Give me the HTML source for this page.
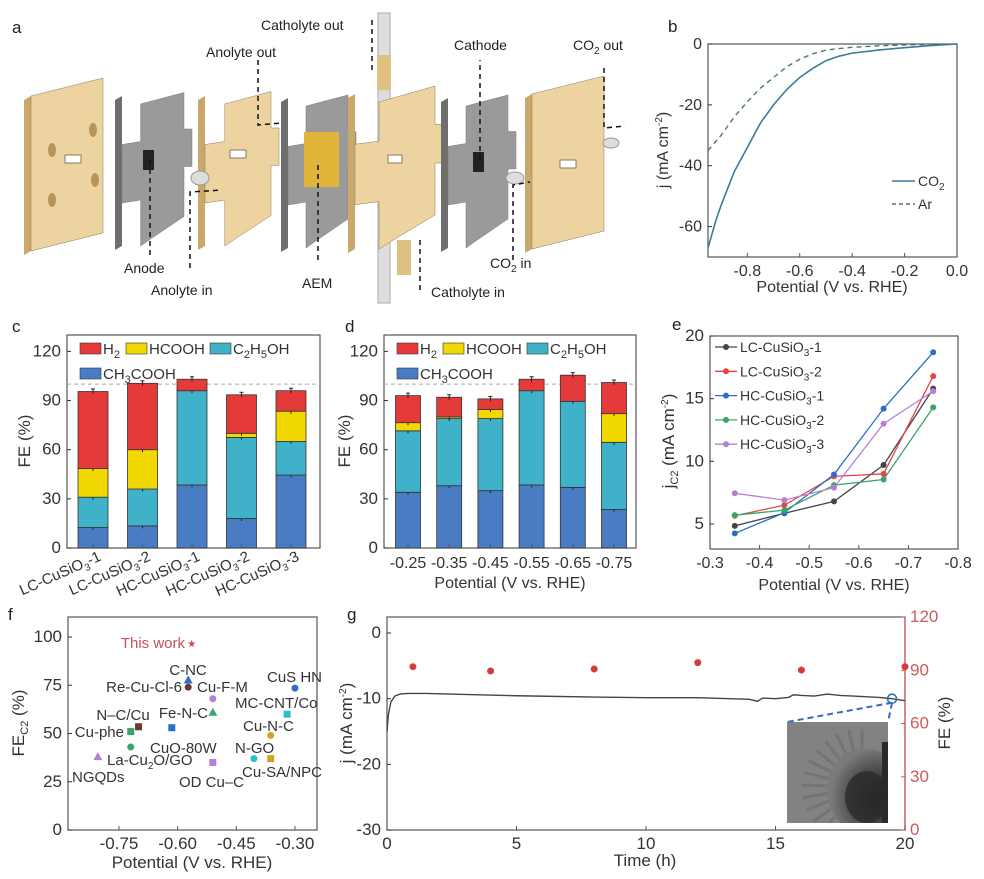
<!DOCTYPE html>
<html><head><meta charset="utf-8"><style>
body{margin:0;background:#fff;}
svg{display:block;font-family:"Liberation Sans",sans-serif;}
</style></head><body>
<svg id="fig" width="984" height="879" viewBox="0 0 984 879" xmlns="http://www.w3.org/2000/svg">
<defs>
<radialGradient id="blob" cx="0.65" cy="0.6" r="0.6"><stop offset="0" stop-color="#1e1e1e"/><stop offset="0.55" stop-color="#4a4a4a"/><stop offset="1" stop-color="#7a7a7a"/></radialGradient>
</defs>
<g id="pa"></g>
<g id="pb"></g>
<g id="pc"></g>
<g id="pd"></g>
<g id="pe"></g>
<g id="pf"></g>
<g id="pg"></g>
</svg>
<script>
// ---------- data ----------
const bPot = [-0.95,-0.92,-0.9,-0.85,-0.8,-0.75,-0.7,-0.65,-0.6,-0.55,-0.5,-0.45,-0.4,-0.3,-0.2,-0.1,0];
const bCO2 = [-67,-58,-53,-42,-34,-26,-20,-15,-11,-8,-5.5,-4,-3,-2,-1.2,-0.5,0];
const bArPot = [-0.95,-0.9,-0.85,-0.8,-0.75,-0.7,-0.65,-0.6,-0.55,-0.5,-0.45,-0.4,-0.3,-0.2,0];
const bAr = [-35,-30,-24,-19,-14.5,-11,-7.5,-5,-3.2,-2,-1.5,-1.1,-0.6,-0.3,0];

const cCats = ["LC-CuSiO3-1","LC-CuSiO3-2","HC-CuSiO3-1","HC-CuSiO3-2","HC-CuSiO3-3"];
const cCH3COOH = [12.5,13.5,38.5,18,44.5];
const cC2H5OH = [18.5,22.5,57.5,49.5,20.5];
const cHCOOH = [17.5,24,0,2.5,18.5];
const cH2 = [47,40.5,7,23.5,12.5];

const dCats = ["-0.25","-0.35","-0.45","-0.55","-0.65","-0.75"];
const dCH3COOH = [34,38,35,38.5,37,23.5];
const dC2H5OH = [37.5,41,44,57.5,52.5,41];
const dHCOOH = [5,1,5.5,0,0,17.5];
const dH2 = [16.5,12,6.5,7,16,19];

const ePot = [-0.35,-0.45,-0.55,-0.65,-0.75];
const eLC1 = [4.85,5.85,6.8,9.7,15.8];
const eLC2 = [5.65,6.5,8.8,9.0,16.8];
const eHC1 = [4.25,5.9,8.95,14.2,18.7];
const eHC2 = [5.7,6.1,8.1,8.55,14.3];
const eHC3 = [7.45,6.9,7.9,13.0,15.6];

const fNames = ["This work","C-NC","Re-Cu-Cl-6","Cu-F-M","Fe-N-C","CuO-80W","N–C/Cu","Cu-phe","La-Cu2O/GO","NGQDs","OD Cu–C","N-GO","Cu-SA/NPC","Cu-N-C","MC-CNT/Co","CuS HN"];
const fPot = [-0.564,-0.573,-0.573,-0.51,-0.51,-0.615,-0.70,-0.72,-0.72,-0.804,-0.51,-0.405,-0.362,-0.362,-0.32,-0.30];
const fFE = [97,77.7,74,68,61,53,53.5,51,43,38,35,37,37,49,60,73.5];

const gTime = [0,0.05,0.15,0.3,0.5,0.8,1.5,3,5,8,10,12,14,14.3,14.5,15,15.5,15.7,16,16.5,17,17.5,18,19,19.5,20];
const gJ = [-15,-12.5,-10.5,-9.6,-9.3,-9.2,-9.2,-9.35,-9.55,-9.75,-9.85,-9.85,-10.1,-10.4,-9.9,-10,-9.8,-9.4,-9.5,-9.6,-9.3,-9.5,-9.6,-9.8,-10.0,-10.3];
const gFETime = [1,4,8,12,16,20];
const gFE = [92,89.6,90.7,94.3,90.1,92];

// ---------- helpers ----------
const NS="http://www.w3.org/2000/svg";
function mk(parent,tag,attrs,text){const e=document.createElementNS(NS,tag);for(const k in attrs)e.setAttribute(k,attrs[k]);if(text!==undefined)e.innerHTML=text;parent.appendChild(e);return e;}
const TXT="#333";

// ---------- panel a ----------
(function(){
const g=document.getElementById('pa');
const lab=mk(g,'text',{x:12,y:33,'font-size':17,fill:'#222'},'a');


function plate(x,w,yt,h,front,side,name,cross){
  const sk=-0.25*w, t=7;
  const grp=mk(g,'g',{});
  
  
  mk(grp,'polygon',{points:`${x-t},${yt+8} ${x},${yt+4} ${x},${yt+4+h} ${x-t},${yt+8+h}`,fill:side});
  let pts;
  if(cross){
    const a=w*0.3;
    pts=`${x+a},${yt+12} ${x+w},${yt+4+sk+12} ${x+w},${yt+sk+h*0.35} ${x+w+8},${yt+sk+h*0.35} ${x+w+8},${yt+sk+h*0.6} ${x+w},${yt+sk+h*0.6} ${x+w},${yt+sk+h-10} ${x+a+w*0.2},${yt+h+sk*0.3} ${x+a},${yt+h+4} ${x+a},${yt+h*0.72} ${x},${yt+h*0.74} ${x},${yt+h*0.35} ${x+a},${yt+h*0.33}`;
  } else {
    pts=`${x},${yt+4} ${x+w},${yt+4+sk} ${x+w},${yt+4+sk+h} ${x},${yt+4+h}`;
  }
  mk(grp,'polygon',{points:pts,fill:front,stroke:'#8a7a5a','stroke-width':0.5});
  return grp;
}
const tan='#ecd3a0', tanS='#caa86c', gr='#9a9a9a', grS='#6e6e6e';
plate(31,72,92,155,tan,tanS,'end-plate-left',false);
mk(g,'ellipse',{cx:52,cy:150,rx:4,ry:7,fill:'#b89458'});mk(g,'ellipse',{cx:52,cy:200,rx:4,ry:7,fill:'#b89458'});
mk(g,'ellipse',{cx:93,cy:130,rx:4,ry:7,fill:'#b89458'});mk(g,'ellipse',{cx:95,cy:180,rx:4,ry:7,fill:'#b89458'});
mk(g,'rect',{x:65,y:155,width:16,height:8,fill:'#fff',stroke:'#8a7a5a'});
plate(122,62,92,150,gr,grS,'anode-plate',true);
mk(g,'rect',{x:143,y:150,width:11,height:20,fill:'#222'});
plate(205,66,92,150,tan,tanS,'anolyte-plate',true);
mk(g,'rect',{x:230,y:150,width:16,height:8,fill:'#fff',stroke:'#8a7a5a'});
mk(g,'ellipse',{cx:200,cy:178,rx:9,ry:7,fill:'#ddd',stroke:'#999'});
plate(288,60,94,150,gr,grS,'aem-plate',true);
const aem=mk(g,'rect',{x:304,y:132,width:35,height:55,fill:'#e0b53a'});


mk(g,'rect',{x:378,y:13,width:12,height:290,fill:'#ddd',stroke:'#aaa'});
mk(g,'rect',{x:377,y:55,width:14,height:35,fill:'#dfc080'});
mk(g,'rect',{x:397,y:240,width:14,height:35,fill:'#dfc080'});
plate(355,80,90,155,tan,tanS,'catholyte-plate',true);
mk(g,'rect',{x:388,y:155,width:14,height:8,fill:'#fff',stroke:'#8a7a5a'});
plate(448,60,94,150,gr,grS,'cathode-plate',true);
mk(g,'rect',{x:473,y:152,width:11,height:20,fill:'#222'});
mk(g,'ellipse',{cx:515,cy:178,rx:9,ry:6,fill:'#ddd',stroke:'#999'});
plate(532,72,90,155,tan,tanS,'end-plate-right',false);
mk(g,'rect',{x:560,y:160,width:16,height:8,fill:'#fff',stroke:'#8a7a5a'});
mk(g,'ellipse',{cx:611,cy:143,rx:8,ry:5,fill:'#ddd',stroke:'#999'});
function darr(pts){const p=mk(g,'polyline',{points:pts,fill:'none',stroke:'#111','stroke-width':1.5,'stroke-dasharray':'5,4'});}
darr('150,160 150,258');darr('190,268 190,192 222,190');darr('258,60 258,125 282,123');
darr('318,165 318,262');darr('372,70 372,18');darr('420,290 420,237');
darr('480,160 480,60');darr('513,260 513,185 530,182');darr('604,68 604,128 625,126');
const labels=[["Catholyte out",261,30,'label-catholyte-out'],["Anolyte out",206,57,'label-anolyte-out'],["Cathode",454,50,'label-cathode'],["CO<tspan font-size='10' dy='4'>2</tspan><tspan dy='-4'> out</tspan>",573,50,'label-co2-out'],["Anode",124,273,'label-anode'],["Anolyte in",151,295,'label-anolyte-in'],["AEM",302,288,'label-aem'],["CO<tspan font-size='10' dy='4'>2</tspan><tspan dy='-4'> in</tspan>",490,268,'label-co2-in'],["Catholyte in",431,297,'label-catholyte-in']];
labels.forEach(l=>{const t=mk(g,'text',{x:l[1],y:l[2],'font-size':14,fill:'#222'},l[0]);});
})();

// ---------- generic axis helpers ----------
function frame(g,x0,y0,x1,y1){mk(g,'rect',{x:x0,y:y0,width:x1-x0,height:y1-y0,fill:'none',stroke:'#555','stroke-width':1.2});}
function ytick(g,x,y,label,color,right,fs){
  color=color||TXT;
  mk(g,'line',{x1:x,y1:y,x2:right?x-4:x+4,y2:y,stroke:color});
  const t=mk(g,'text',{x:right?x+5:x-6,y:y+5,'font-size':fs||16,fill:color,'text-anchor':right?'start':'end'},label);
  
  
}
function xtick(g,x,y,label,fs){
  mk(g,'line',{x1:x,y1:y,x2:x,y2:y-4,stroke:'#555'});
  const t=mk(g,'text',{x:x,y:y+19,'font-size':fs||16,fill:TXT,'text-anchor':'middle'},label);
  
  
}
function title(g,x,y,html,rot,name,fs,color){
  const t=mk(g,'text',{x:x,y:y,'font-size':fs||16,fill:color||TXT,'text-anchor':'middle',transform:rot?`rotate(-90 ${x} ${y})`:''},html);
  
  
}
function plabel(g,x,y,s){const t=mk(g,'text',{x:x,y:y,'font-size':17,fill:'#222'},s);}

// ---------- panel b ----------
(function(){
const g=document.getElementById('pb');
const X0=708,X1=957,Y0=44,Y1=257, xmin=-0.95,xmax=0,ymin=-70,ymax=0;
const sx=v=>X0+(v-xmin)/(xmax-xmin)*(X1-X0), sy=v=>Y0+(ymax-v)/(ymax-ymin)*(Y1-Y0);
plabel(g,668,32,'b');
frame(g,X0,Y0,X1,Y1);
[0,-20,-40,-60].forEach(v=>ytick(g,X0,sy(v),v));
[-0.8,-0.6,-0.4,-0.2,0].forEach(v=>xtick(g,sx(v),Y1,v.toFixed(1)));
const l1=mk(g,'polyline',{points:bPot.map((p,i)=>sx(p)+','+sy(bCO2[i])).join(' '),fill:'none',stroke:'#3c7a9a','stroke-width':1.6});

const l2=mk(g,'polyline',{points:bArPot.map((p,i)=>sx(p)+','+sy(bAr[i])).join(' '),fill:'none',stroke:'#4a7a6a','stroke-width':1.4,'stroke-dasharray':'5,4'});

mk(g,'line',{x1:892,y1:181,x2:915,y2:181,stroke:'#3c7a9a','stroke-width':1.6});
const t1=mk(g,'text',{x:918,y:186,'font-size':14,fill:TXT},"CO<tspan font-size='10' dy='4'>2</tspan>");
mk(g,'line',{x1:892,y1:204,x2:915,y2:204,stroke:'#4a7a6a','stroke-width':1.4,'stroke-dasharray':'4,3'});
const t2=mk(g,'text',{x:918,y:209,'font-size':14,fill:TXT},"Ar");
title(g,832,292,'Potential (V vs. RHE)',false,'x-axis-title');
title(g,668,150,"j (mA cm<tspan font-size='10' dy='-6'>-2</tspan><tspan dy='6'>)</tspan>",true,'y-axis-title');
})();

// ---------- stacked bars (c,d) ----------
const COLS=['#4a7cc4','#3fb1c8','#f0d800','#e53a3a'];
function stacked(gid,X0,X1,cats,series,centers,bw,labelFn,lx){
  const g=document.getElementById(gid);
  const Y0=335,Y1=548;
  const sy=v=>Y1-v*(Y1-Y0)/130;
  frame(g,X0,Y0,X1,Y1);
  [0,30,60,90,120].forEach(v=>ytick(g,X0,sy(v),v,TXT,false,17));
  mk(g,'line',{x1:X0,y1:sy(100),x2:X1,y2:sy(100),stroke:'#aaa','stroke-dasharray':'4,3'});
  cats.forEach((c,i)=>{
    let acc=0;
    series.forEach((s,k)=>{
      const v=s[i]; if(v<=0){return;}
      const r=mk(g,'rect',{x:centers[i]-bw/2,y:sy(acc+v),width:bw,height:v*(Y1-Y0)/130,fill:COLS[k],stroke:'#333','stroke-width':0.8});
      
      
      acc+=v;
      const ey=sy(acc);
      mk(g,'line',{x1:centers[i],y1:ey-2.5,x2:centers[i],y2:ey+2.5,stroke:'#222'});
      mk(g,'line',{x1:centers[i]-2,y1:ey-2.5,x2:centers[i]+2,y2:ey-2.5,stroke:'#222'});
    });
    mk(g,'line',{x1:centers[i],y1:Y1,x2:centers[i],y2:Y1-4,stroke:'#555'});
    labelFn(g,centers[i],c);
  });
  const items=[["H<tspan font-size='11' dy='4'>2</tspan>",lx,343,3],["HCOOH",lx+46,343,2],["C<tspan font-size='11' dy='4'>2</tspan><tspan dy='-4'>H</tspan><tspan font-size='11' dy='4'>5</tspan><tspan dy='-4'>OH</tspan>",lx+130,343,1],["CH<tspan font-size='11' dy='4'>3</tspan><tspan dy='-4'>COOH</tspan>",lx,368,0]];
  items.forEach(it=>{
    const r=mk(g,'rect',{x:it[1],y:it[2],width:21,height:11,fill:COLS[it[3]],stroke:'#333','stroke-width':0.6});
    
    const t=mk(g,'text',{x:it[1]+23,y:it[2]+11,'font-size':15,fill:TXT},it[0]);
    
  });
}
(function(){
const cx0=93,cstep=49.5;
const centersC=cCats.map((_,i)=>cx0+cstep*i);
stacked('pc',67,320,cCats,[cCH3COOH,cC2H5OH,cHCOOH,cH2],centersC,30,(g,x,c)=>{
  const p=c.indexOf('O3');
  const a=c.slice(0,p+1), b=c.slice(p+2);
  const t=mk(g,'text',{x:x+9,y:560,'font-size':15,fill:TXT,'text-anchor':'end',transform:`rotate(-24 ${x+9} 560)`},`${a}<tspan font-size='10' dy='4'>3</tspan><tspan dy='-4'>${b}</tspan>`);
  
},80);
const g=document.getElementById('pc');
plabel(g,12,332,'c');
title(g,30,441,'FE (%)',true,'y-axis-title',17);
const centersD=dCats.map((_,i)=>408+41.2*i);
stacked('pd',384,636,dCats,[dCH3COOH,dC2H5OH,dHCOOH,dH2],centersD,25,(g,x,c)=>{
  const t=mk(g,'text',{x:x,y:568,'font-size':16,fill:TXT,'text-anchor':'middle'},c);
  
},397);
const gd=document.getElementById('pd');
plabel(gd,345,332,'d');
title(gd,350,441,'FE (%)',true,'y-axis-title',17);
title(gd,510,588,'Potential (V vs. RHE)',false,'x-axis-title');
})();

// ---------- panel e ----------
(function(){
const g=document.getElementById('pe');
const X0=710,X1=958,Y0=336,Y1=549;
const sx=v=>X0+(-0.3-v)/0.5*(X1-X0), sy=v=>Y0+(20-v)/17*(Y1-Y0);
plabel(g,672,330,'e');
frame(g,X0,Y0,X1,Y1);
[5,10,15,20].forEach(v=>ytick(g,X0,sy(v),v,TXT,false,17));
[-0.3,-0.4,-0.5,-0.6,-0.7,-0.8].forEach(v=>xtick(g,sx(v),Y1,v.toFixed(1)));
const series=[[eLC1,'#444','LC-CuSiO','-1'],[eLC2,'#e04848','LC-CuSiO','-2'],[eHC1,'#2a6fc9','HC-CuSiO','-1'],[eHC2,'#3aa56a','HC-CuSiO','-2'],[eHC3,'#b57fd6','HC-CuSiO','-3']];
series.forEach((s,k)=>{
  const l=mk(g,'polyline',{points:ePot.map((p,i)=>sx(p)+','+sy(s[0][i])).join(' '),fill:'none',stroke:s[1],'stroke-width':1.3});
  
  ePot.forEach((p,i)=>{const c=mk(g,'circle',{cx:sx(p),cy:sy(s[0][i]),r:3,fill:s[1]});});
  const ly=347+24.3*k;
  mk(g,'line',{x1:715,y1:ly,x2:737,y2:ly,stroke:s[1],'stroke-width':1.3});
  mk(g,'circle',{cx:726,cy:ly,r:3,fill:s[1]});
  const t=mk(g,'text',{x:740,y:ly+5,'font-size':14,fill:TXT},`${s[2]}<tspan font-size='10' dy='4'>3</tspan><tspan dy='-4'>${s[3]}</tspan>`);
  
});
title(g,834,590,'Potential (V vs. RHE)',false,'x-axis-title');
title(g,674,441,"j<tspan font-size='11' dy='4'>C2</tspan><tspan dy='-4'> (mA cm</tspan><tspan font-size='10' dy='-6'>-2</tspan><tspan dy='6'>)</tspan>",true,'y-axis-title',17);
})();

// ---------- panel f ----------
(function(){
const g=document.getElementById('pf');
const X0=68,X1=317,Y0=617,Y1=830;
const sx=v=>119+(v+0.75)*391, sy=v=>Y1-v*1.93;
plabel(g,8,620,'f');
frame(g,X0,Y0,X1,Y1);
[0,25,50,75,100].forEach(v=>ytick(g,X0,sy(v),v,TXT,false,17));
[-0.75,-0.6,-0.45,-0.3].forEach(v=>xtick(g,sx(v),Y1,v.toFixed(2),17));
const colors=['#d04545','#2a6fc9','#6a3a3a','#b57fd6','#3aa56a','#2a6fc9','#6a3a3a','#3aa56a','#3aa56a','#b57fd6','#b57fd6','#29c0c8','#d4a020','#d4a020','#29c0c8','#2a6fc9'];
const shapes=['star','tri','circ','circ','tri','sq','sq','sq','circ','tri','sq','circ','sq','circ','sq','circ'];
fNames.forEach((n,i)=>{
  const x=sx(fPot[i]),y=sy(fFE[i]);let m;
  if(shapes[i]==='circ')m=mk(g,'circle',{cx:x,cy:y,r:3.5,fill:colors[i]});
  else if(shapes[i]==='sq')m=mk(g,'rect',{x:x-3.5,y:y-3.5,width:7,height:7,fill:colors[i]});
  else if(shapes[i]==='tri')m=mk(g,'polygon',{points:`${x},${y-4.5} ${x+4.5},${y+3.5} ${x-4.5},${y+3.5}`,fill:colors[i]});
  else m=mk(g,'text',{x:x,y:y+4,'font-size':10,fill:colors[i],'text-anchor':'middle'},'★');
  
  
});
const labs=[["This work",185,648,'end','#c8505a'],["C-NC",188,675,'middle'],["Re-Cu-Cl-6",182,692,'end'],["Cu-F-M",197,692,'start'],["Fe-N-C",208,718,'end'],["N–C/Cu",123,720,'middle'],["Cu-phe",124,737,'end'],["CuO-80W",150,753,'start'],["La-Cu<tspan font-size='10' dy='4'>2</tspan><tspan dy='-4'>O/GO</tspan>",107,765,'start'],["NGQDs",72,782,'start'],["OD Cu–C",179,787,'start'],["CuS HN",267,682,'start'],["MC-CNT/Co",235,708,'start'],["Cu-N-C",243,731,'start'],["N-GO",235,753,'start'],["Cu-SA/NPC",242,777,'start']];
labs.forEach(l=>{const t=mk(g,'text',{x:l[1],y:l[2],'font-size':15,fill:l[4]||TXT,'text-anchor':l[3]},l[0]);});
title(g,192,868,'Potential (V vs. RHE)',false,'x-axis-title',17);
title(g,24,723,"FE<tspan font-size='11' dy='4'>C2</tspan><tspan dy='-4'> (%)</tspan>",true,'y-axis-title',17);
})();

// ---------- panel g ----------
(function(){
const g=document.getElementById('pg');
const X0=387,X1=905,Y0=617,Y1=830;
const sx=t=>X0+t*(X1-X0)/20, syL=j=>633-j*6.57, syR=f=>Y1-f*(Y1-Y0)/120;
plabel(g,347,620,'g');
frame(g,X0,Y0,X1,Y1);
mk(g,'line',{x1:X1,y1:Y0,x2:X1,y2:Y1,stroke:'#d05a5a','stroke-width':1.3});
[0,-10,-20,-30].forEach(v=>ytick(g,X0,syL(v),v,TXT,false,17));
[0,30,60,90,120].forEach(v=>ytick(g,X1,syR(v),v,'#d05a5a',true,17));
[0,5,10,15,20].forEach(v=>xtick(g,sx(v),Y1,v,17));
const l=mk(g,'polyline',{points:gTime.map((t,i)=>sx(t)+','+syL(gJ[i])).join(' '),fill:'none',stroke:'#444','stroke-width':1.4});

gFETime.forEach((t,i)=>{const c=mk(g,'circle',{cx:sx(t),cy:syR(gFE[i]),r:3.5,fill:'#d63a3a'});});
const ix=787,iy=722,iw=101,ih=101;
const mcx=sx(19.5),mcy=syL(-10);
mk(g,'line',{x1:mcx,y1:mcy+4,x2:ix,y2:iy,stroke:'#3a6ac0','stroke-width':2,'stroke-dasharray':'6,4'});
mk(g,'line',{x1:mcx,y1:mcy+4,x2:ix+iw,y2:iy,stroke:'#3a6ac0','stroke-width':2,'stroke-dasharray':'6,4'});
const circ=mk(g,'circle',{cx:mcx,cy:mcy,r:4.5,fill:'none',stroke:'#2a7aa8','stroke-width':1.6});

const ins=mk(g,'g',{});


mk(ins,'clipPath',{id:'insclip'}).innerHTML=`<rect x="${ix}" y="${iy}" width="${iw}" height="${ih}"/>`;
const inner=mk(ins,'g',{'clip-path':'url(#insclip)'});
mk(inner,'rect',{x:ix,y:iy,width:iw,height:ih,fill:'#828282'});
for(let k=0;k<16;k++){const a=Math.PI*(0.5+k*0.07);mk(inner,'line',{x1:ix+75,y1:iy+65,x2:ix+75+Math.cos(a)*60,y2:iy+65-Math.sin(a)*58,stroke:'#6a6a6a','stroke-width':3,'stroke-opacity':0.6});}
mk(inner,'ellipse',{cx:ix+78,cy:iy+68,rx:38,ry:42,fill:'url(#blob)'});
mk(inner,'ellipse',{cx:ix+80,cy:iy+75,rx:22,ry:26,fill:'#2a2a2a','fill-opacity':0.8});
mk(inner,'rect',{x:ix+iw-6,y:iy+20,width:6,height:ih-20,fill:'#2a2a2a'});
title(g,645,866,'Time (h)',false,'x-axis-title',17);
title(g,352,723,"j (mA cm<tspan font-size='10' dy='-6'>-2</tspan><tspan dy='6'>)</tspan>",true,'y-axis-title-left',17);
title(g,950,723,'FE (%)',true,'y-axis-title-right',17);
})();
</script>
</body></html>
